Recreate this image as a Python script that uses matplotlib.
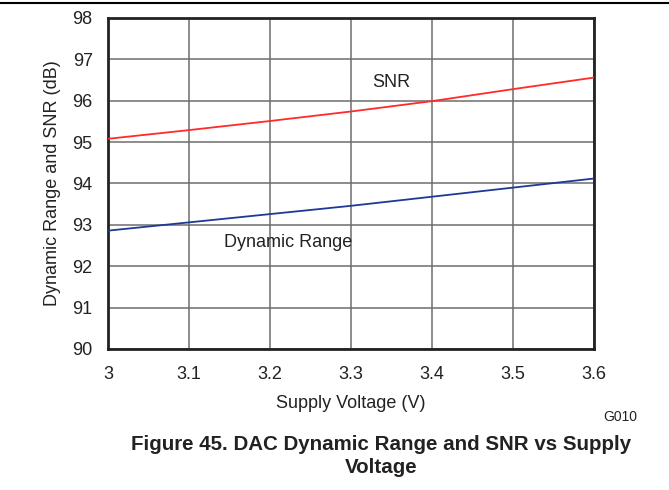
import numpy as np
import matplotlib.pyplot as plt
from matplotlib.lines import Line2D

plt.rcParams['font.family'] = ['Liberation Sans', 'DejaVu Sans']

# supply voltage (V)
voltage = [3.0, 3.1, 3.2, 3.3, 3.4, 3.5, 3.6]
# SNR and dynamic range (dB)
snr = [95.08, 95.29, 95.51, 95.74, 95.99, 96.28, 96.56]
dyn_range = [92.86, 93.06, 93.26, 93.46, 93.68, 93.90, 94.12]

xticks = [3, 3.1, 3.2, 3.3, 3.4, 3.5, 3.6]
xtick_labels = ['3', '3.1', '3.2', '3.3', '3.4', '3.5', '3.6']
yticks = list(range(90, 99))

fig = plt.figure(figsize=(6.69, 4.9), dpi=100)
ax = fig.add_axes([0.1614, 0.2878, 0.7265, 0.6755])

ax.plot(voltage, snr, color='#ff2a2a', lw=1.3, zorder=3)
ax.plot(voltage, dyn_range, color='#1c3a96', lw=1.3, zorder=3)

ax.set_xlim(3.0, 3.6)
ax.set_ylim(90, 98)
ax.set_xticks(xticks)
ax.set_xticklabels(xtick_labels)
ax.set_yticks(yticks)
ax.tick_params(axis='both', length=0, labelsize=13, colors='#222222')
ax.tick_params(axis='x', pad=12)
ax.tick_params(axis='y', pad=11)
ax.grid(True, color='#6e6e6e', lw=1.1)
for s in ax.spines.values():
    s.set_linewidth(2)
    s.set_color('#222222')

ax.text(3.35, 96.45, 'SNR', fontsize=13, ha='center', va='center', color='#222222')
ax.text(3.222, 92.57, 'Dynamic Range', fontsize=13, ha='center', va='center', color='#222222')

ax.set_xlabel('Supply Voltage (V)', fontsize=13, color='#222222', labelpad=9)
ax.set_ylabel('Dynamic Range and SNR (dB)', fontsize=13, color='#222222', labelpad=8)

fig.text(620 / 669, 1 - 417 / 490, 'G010', fontsize=10, ha='center', va='center', color='#222222')
fig.text(381 / 669, 1 - 456 / 490, 'Figure 45. DAC Dynamic Range and SNR vs Supply\nVoltage',
         fontsize=14.8, fontweight='bold', ha='center', va='center', linespacing=1.28, color='#222222')

fig.add_artist(Line2D([0, 1], [1 - 3.5 / 490, 1 - 3.5 / 490], color='black', lw=1.5,
                      transform=fig.transFigure))

fig.savefig('out.png', dpi=100)
